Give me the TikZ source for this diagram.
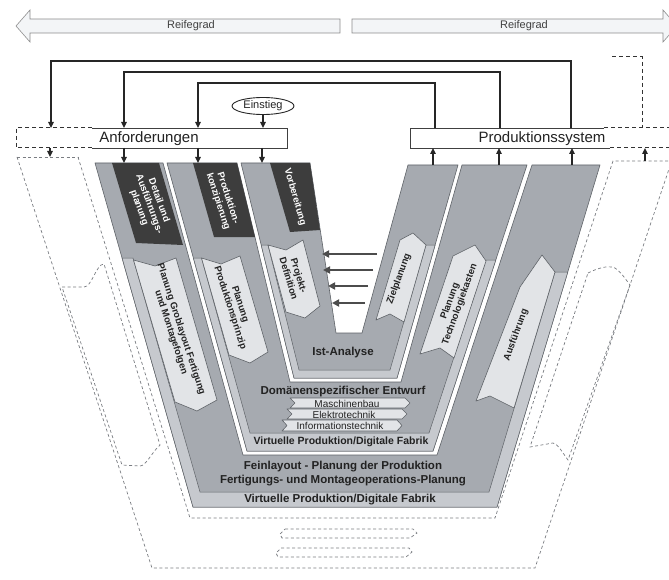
\documentclass[tikz,border=0pt]{standalone}
\usepackage{fontspec}
\setmainfont{Liberation Sans}
\usetikzlibrary{arrows.meta,shapes.geometric}
\definecolor{midgrey}{HTML}{A6AAB0}
\definecolor{bandgrey}{HTML}{C6C9CE}
\definecolor{labelgrey}{HTML}{E2E4E7}
\definecolor{darkbox}{HTML}{3D3D3D}
\definecolor{edgegrey}{HTML}{5F6368}
\definecolor{txt}{HTML}{222222}
\definecolor{ghost}{HTML}{7A7D82}
\definecolor{arrowfill}{HTML}{F3F5F7}
\begin{document}
\begin{tikzpicture}[x=1pt,y=-1pt,
  layer/.style={fill=midgrey,draw=edgegrey,line width=0.6pt,line join=round},
  band/.style={fill=bandgrey,draw=edgegrey,line width=0.5pt,line join=round},
  lbl/.style={fill=labelgrey,draw=edgegrey,line width=0.6pt,line join=round},
  dbox/.style={fill=darkbox},
  ghostline/.style={draw=ghost,dash pattern=on 3pt off 2.5pt,line width=0.7pt},
  dashedbox/.style={draw=black!80,dash pattern=on 4pt off 3pt,line width=1pt},
  boxline/.style={draw=black!75,line width=0.8pt},
  fb/.style={draw=black!85,line width=1.3pt,-{Triangle[length=6pt,width=5.5pt]}},
  carr/.style={draw=black!70,line width=2.2pt,-{Triangle[length=7pt,width=7pt]}},
  bigarrow/.style={fill=arrowfill,draw=black!45,line width=0.6pt},
  reif/.style={font=\fontsize{11}{12}\selectfont,text=black!75,inner sep=0pt},
  boxtext/.style={font=\fontsize{15}{16}\selectfont,text=txt,inner sep=0pt},
  lbltext/.style={font=\fontsize{9.5}{10.5}\selectfont\bfseries,text=txt,align=center,inner sep=0pt},
  dtext/.style={font=\fontsize{9.5}{10.5}\selectfont\bfseries,text=white,align=center,inner sep=0pt},
  btext/.style={font=\fontsize{11.5}{12}\selectfont\bfseries,text=txt,inner sep=0pt},
  ctext/.style={font=\fontsize{10}{10}\selectfont,text=txt,inner sep=0pt}
]
\useasboundingbox (0,0) rectangle (669,580);
\fill[white] (0,0) rectangle (669,580);

% ---------- maturity arrows ----------
\draw[bigarrow] (16,26) -- (30,10) -- (30,19) -- (340,19) -- (340,33) -- (30,33) -- (30,42) -- cycle;
\node[reif] (reifl) at (191,26) {Reifegrad};
\draw[bigarrow] (677,26) -- (663,10) -- (663,19) -- (352,19) -- (352,33) -- (663,33) -- (663,42) -- cycle;
\node[reif] (reifr) at (524,26) {Reifegrad};

% ---------- ghost (dashed) layer ----------
\draw[ghostline] (17,157) -- (78,157);
\draw[ghostline] (17,157) -- (152,568) -- (535,568) -- (672,160);
\draw[ghostline] (78,157) -- (190,518) -- (495,518) -- (613,161) -- (672,161);
\draw[ghostline] (62,287) -- (84,287) .. controls (92,287) and (96,264) .. (104,264) -- (160,445) .. controls (152,452) and (146,466) .. (140,466) -- (122,465) -- cycle;
\draw[ghostline] (588,273) .. controls (598,268) and (606,266) .. (613,267) .. controls (620,270) and (626,280) .. (630,285) -- (568,460) .. controls (562,452) and (558,444) .. (553,443) -- (530,447) -- cycle;
\draw[ghostline] (285,529) -- (413,529) -- (417,533) -- (410,538) -- (282,538) -- (280,534) -- cycle;
\draw[ghostline] (281,548) -- (409,548) -- (412,552) -- (406,557) -- (278,557) -- (276,553) -- cycle;

% ---------- layer 1 (outer) ----------
\draw[layer] (95,163) -- (193,507) -- (497,507) -- (600,165) -- (532,165) -- (437,455) -- (243,455) -- (163,163) -- cycle;
\draw[band] (122.1,258) -- (193,507) -- (497,507) -- (567.8,272) -- (555,272) -- (489,492) -- (200,492) -- (133,258) -- cycle;
% ---------- layer 2 ----------
\draw[layer] (167,163) -- (247,451) -- (433,451) -- (527,165) -- (462,165) -- (401,382) -- (290,382) -- (237,163) -- cycle;
\draw[band] (193.4,258) -- (247,451) -- (433,451) -- (495.8,260) -- (486,260) -- (429,433) -- (250,433) -- (201.5,258) -- cycle;
% ---------- layer 3 (inner) ----------
\draw[layer] (241,163) -- (294,378) -- (397,378) -- (458,165) -- (408,165) -- (362,333) -- (336,333) -- (310,163) -- cycle;
\draw[band] (261.2,245) -- (294,378) -- (397,378) -- (435.1,245) -- (426,245) -- (390,370) -- (299,370) -- (268,245) -- cycle;

% ---------- dark boxes ----------
\fill[dbox] (112,163) -- (159,163) -- (183,245) -- (136,243) -- cycle;
\fill[dbox] (193,163) -- (237,163) -- (255,237) -- (214,237) -- cycle;
\fill[dbox] (270,163) -- (310,163) -- (320,230) -- (290,232) -- cycle;
\node[dtext,rotate=-70] (t1) at (149,204) {Detail und\\Ausführungs-\\planung};
\node[dtext,rotate=-72] (t2) at (223,200) {Produktion-\\konzipierung};
\node[dtext,rotate=-74] (t3) at (295,197) {Vorbereitung};

% ---------- light labels ----------
\draw[lbl] (133.5,260) -- (155,266) -- (176,258) -- (217,400) -- (197,411) -- (175,402) -- cycle;
\draw[lbl] (201.5,258) -- (221,264) -- (240,256) -- (268,352) -- (250,363) -- (229,355) -- cycle;
\draw[lbl] (268,245) -- (286,250) -- (303,240) -- (320,306) -- (305,318) -- (286,312) -- cycle;
\draw[lbl] (400,240) -- (413,233) -- (426,245) -- (404,322) -- (390,314) -- (376,320) -- cycle;
\draw[lbl] (453,256) -- (475,245) -- (486,261) -- (454,358) -- (440,348) -- (420,354) -- cycle;
\draw[lbl] (520,287) -- (542,255) -- (555,272) -- (514,408) -- (490,396) -- (476,401) -- cycle;
\node[lbltext,rotate=-72] (ta) at (176,331) {Planung Groblayout Fertigung\\und Montagefolgen};
\node[lbltext,rotate=-72] (tb) at (235,306) {Planung\\Produktionsprinzip};
\node[lbltext,rotate=-73] (tc) at (294,277) {Projekt-\\Definition};
\node[lbltext,rotate=70] (td) at (399,279) {Zielplanung};
\node[lbltext,rotate=70] (te) at (455,303) {Planung\\Technologiekasten};
\node[lbltext,rotate=70] (tf) at (516,335) {Ausführung};

% ---------- bottom texts ----------
\node[btext] (ist) at (343,353) {Ist-Analyse};
\node[btext] (dom) at (343,392) {Domänenspezifischer Entwurf};
\draw[lbl] (290,398) -- (405,398) -- (410,403) -- (405,408) -- (290,408) -- (295,403) -- cycle;
\draw[lbl] (287,409) -- (402,409) -- (407,414) -- (402,419) -- (287,419) -- (292,414) -- cycle;
\draw[lbl] (282,420) -- (397,420) -- (402,425.5) -- (397,431) -- (282,431) -- (287,425.5) -- cycle;
\node[ctext] (mb) at (347,403.5) {Maschinenbau};
\node[ctext] (et) at (344,414.5) {Elektrotechnik};
\node[ctext] (it) at (340,426) {Informationstechnik};
\node[btext,font=\fontsize{10.5}{11}\selectfont\bfseries] (vp2) at (341,442) {Virtuelle Produktion/Digitale Fabrik};
\node[btext] (fein) at (343,467) {Feinlayout - Planung der Produktion};
\node[btext] (fert) at (343,481) {Fertigungs- und Montageoperations-Planung};
\node[btext] (vp1) at (340,500) {Virtuelle Produktion/Digitale Fabrik};

% ---------- center arrows ----------
\coordinate (ca1) at (377,254); \coordinate (cb1) at (322,254);
\coordinate (ca2) at (373,270); \coordinate (cb2) at (323,270);
\coordinate (ca3) at (368,286); \coordinate (cb3) at (328,286);
\coordinate (ca4) at (365,303); \coordinate (cb4) at (332,303);
\draw[carr] (ca1) -- (cb1);
\draw[carr] (ca2) -- (cb2);
\draw[carr] (ca3) -- (cb3);
\draw[carr] (ca4) -- (cb4);

% ---------- boxes ----------
\fill[white] (16,128) rectangle (287,148);
\draw[boxline] (92,128) -- (287,128) -- (287,148) -- (92,148);
\draw[dashedbox] (92,128) -- (16,128) -- (16,148) -- (92,148);
\node[boxtext] (anf) at (149,138.5) {Anforderungen};
\fill[white] (410,128) rectangle (669,148);
\draw[boxline] (604,128) -- (410,128) -- (410,148) -- (610,148);
\draw[dashedbox] (604,128) -- (672,128);
\draw[dashedbox] (610,148) -- (672,148);
\node[boxtext] (prod) at (542,138.5) {Produktionssystem};
\draw[dashedbox] (612,57) -- (642,57) -- (642,128);

% ---------- feedback loops ----------
\coordinate (p1) at (571,128); \coordinate (p2) at (500,128); \coordinate (p3) at (435,128);
\coordinate (a1) at (51,128); \coordinate (a2) at (124,128); \coordinate (a3) at (198,128);
\draw[fb] (p1) -- ++(0,-67) -| (a1);
\draw[fb] (p2) -- ++(0,-56) -| (a2);
\draw[fb] (p3) -- ++(0,-45) -| (a3);
\node[ellipse,draw=black!85,line width=0.9pt,fill=white,minimum width=62pt,minimum height=17pt,inner sep=0pt,font=\fontsize{11}{12}\selectfont,text=txt] (ein) at (263,106) {Einstieg};
\coordinate (a4) at (263,128);
\draw[fb] (ein.south) -- (a4);

% ---------- short arrows to / from strips ----------
\coordinate (b1) at (50,148); \coordinate (s1) at (50,157);
\coordinate (b2) at (124,148); \coordinate (s2) at (124,163);
\coordinate (b3) at (198,148); \coordinate (s3) at (198,163);
\coordinate (b4) at (262,148); \coordinate (s4) at (262,163);
\draw[fb] (b1) -- (s1);
\draw[fb] (b2) -- (s2);
\draw[fb] (b3) -- (s3);
\draw[fb] (b4) -- (s4);
\coordinate (r1) at (433,165); \coordinate (q1) at (433,148);
\coordinate (r2) at (499,165); \coordinate (q2) at (499,148);
\coordinate (r3) at (572,165); \coordinate (q3) at (572,148);
\coordinate (r4) at (645,161); \coordinate (q4) at (645,148);
\draw[fb] (r1) -- (q1);
\draw[fb] (r2) -- (q2);
\draw[fb] (r3) -- (q3);
\draw[fb] (r4) -- (q4);
\end{tikzpicture}
\end{document}
